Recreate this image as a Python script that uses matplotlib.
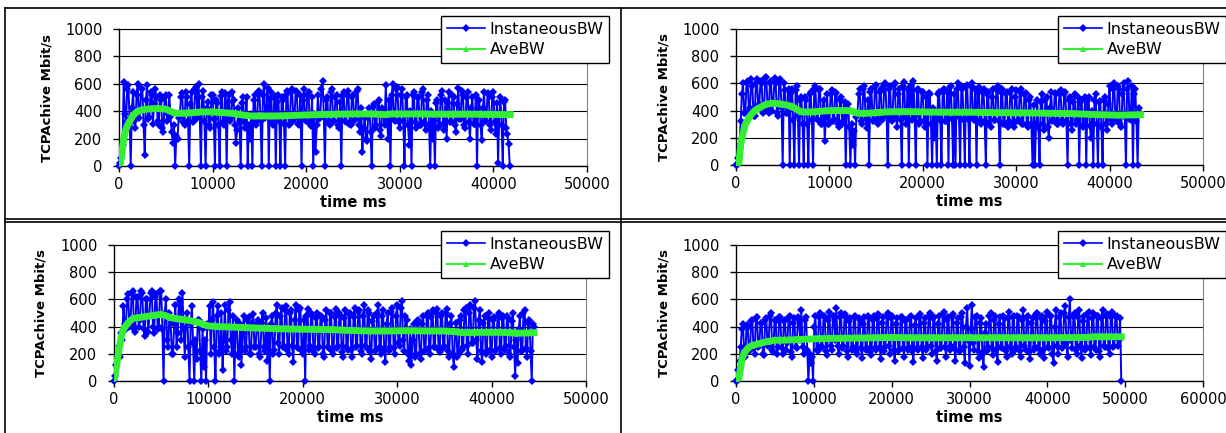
import numpy as np
import matplotlib
matplotlib.use("Agg")
import matplotlib.pyplot as plt
from matplotlib.lines import Line2D

# instantaneous throughput (Mbit/s), sampled every STEP_* ms
STEP_A = 125
inst_a = [
    0, 20, 60, 150, 610, 380, 320, 560, 590, 350, 0, 420, 540, 330, 280, 520, 600, 350, 400, 570,
    560, 300, 80, 480, 590, 340, 360, 540, 520, 310, 450, 560, 500, 330, 300, 520, 480, 280, 250, 500,
    520, 330, 380, 520, 360, 250, 170, 300, 0, 220, 200, 350, 380, 500, 530, 320, 300, 540, 500, 330,
    0, 450, 540, 320, 330, 560, 580, 350, 600, 380, 0, 500, 550, 330, 0, 420, 470, 300, 280, 520,
    520, 340, 0, 480, 460, 300, 0, 510, 540, 320, 300, 530, 0, 470, 520, 330, 350, 540, 480, 300,
    170, 260, 420, 330, 0, 460, 500, 320, 280, 500, 0, 300, 200, 380, 0, 480, 520, 300, 330, 540,
    550, 330, 0, 520, 600, 350, 380, 570, 0, 490, 540, 320, 300, 510, 0, 470, 520, 330, 0, 500,
    480, 310, 0, 520, 550, 300, 310, 540, 560, 330, 350, 550, 540, 310, 300, 520, 0, 480, 560, 340,
    330, 520, 540, 310, 290, 500, 0, 380, 100, 300, 520, 340, 350, 560, 620, 380, 0, 480, 500, 320,
    300, 540, 560, 330, 330, 500, 520, 300, 280, 470, 0, 510, 540, 330, 320, 520, 550, 310, 300, 500,
    520, 330, 340, 550, 560, 300, 250, 420, 100, 280, 350, 200, 180, 380, 420, 250, 0, 430, 450, 280,
    300, 470, 480, 260, 220, 420, 400, 300, 590, 350, 200, 480, 0, 520, 600, 340, 330, 560, 580, 320,
    280, 520, 560, 330, 0, 500, 520, 300, 150, 400, 0, 520, 540, 320, 280, 500, 500, 300, 300, 540,
    560, 320, 260, 480, 520, 300, 0, 400, 200, 330, 0, 460, 480, 280, 300, 520, 550, 310, 260, 480,
    200, 460, 540, 320, 330, 520, 500, 300, 250, 450, 570, 340, 340, 550, 520, 300, 280, 500, 540, 320,
    200, 420, 500, 310, 310, 520, 0, 480, 480, 300, 190, 420, 540, 330, 330, 530, 520, 300, 260, 500,
    540, 320, 230, 460, 20, 380, 500, 300, 0, 470, 480, 280, 230, 160, 0,
]
ave_a_t = [0, 250, 500, 750, 1000, 1500, 2000, 2500, 3000, 4000, 5000, 5500, 6000, 7000, 8000,
           9000, 10000, 11000, 12000, 13000, 14000, 15000, 17000, 19000, 21000, 23000, 25000,
           27000, 28500, 29000, 32000, 35000, 38000, 41800]
ave_a = [0, 60, 200, 270, 310, 370, 400, 410, 415, 420, 415, 400, 385, 385, 390,
         395, 395, 390, 385, 375, 365, 365, 365, 370, 375, 378, 380,
         380, 375, 380, 380, 378, 378, 375]

STEP_B = 125
inst_b = [
    0, 0, 50, 150, 320, 520, 600, 380, 380, 610, 620, 400, 420, 630, 580, 360, 360, 600, 630, 420,
    450, 620, 600, 380, 400, 640, 650, 420, 380, 600, 620, 400, 460, 640, 600, 380, 360, 610, 630, 420,
    0, 600, 550, 380, 380, 560, 0, 530, 560, 330, 0, 550, 580, 360, 0, 480, 500, 300, 0, 500,
    480, 300, 0, 520, 540, 330, 0, 560, 580, 340, 330, 550, 560, 300, 300, 480, 180, 350, 520, 300,
    300, 520, 550, 320, 340, 540, 530, 300, 280, 480, 500, 300, 320, 460, 0, 420, 450, 280, 0, 300,
    150, 250, 0, 350, 380, 520, 560, 320, 300, 560, 580, 340, 270, 480, 0, 540, 560, 320, 330, 580,
    590, 340, 300, 540, 560, 330, 350, 590, 600, 360, 0, 560, 580, 340, 320, 590, 600, 350, 280, 520,
    560, 330, 0, 580, 610, 350, 300, 560, 0, 540, 590, 330, 620, 360, 0, 550, 560, 300, 320, 540,
    540, 320, 280, 500, 0, 530, 520, 300, 0, 420, 200, 350, 0, 520, 540, 330, 0, 550, 560, 320,
    320, 540, 0, 570, 580, 340, 0, 520, 0, 560, 600, 350, 0, 580, 560, 330, 0, 570, 590, 340,
    0, 580, 600, 350, 330, 560, 0, 540, 570, 330, 300, 540, 560, 320, 0, 520, 540, 300, 280, 500,
    560, 330, 330, 560, 580, 320, 0, 540, 560, 300, 300, 520, 540, 280, 320, 540, 560, 300, 280, 500,
    550, 320, 330, 540, 560, 300, 300, 520, 530, 300, 280, 480, 500, 300, 0, 440, 0, 300, 480, 280,
    0, 460, 520, 300, 260, 480, 500, 280, 200, 420, 540, 320, 330, 530, 520, 300, 300, 540, 550, 330,
    300, 520, 540, 320, 0, 480, 500, 300, 260, 460, 520, 300, 330, 500, 0, 460, 480, 280, 300, 500,
    0, 470, 500, 290, 200, 400, 0, 480, 520, 300, 0, 460, 470, 280, 0, 480, 500, 300, 260, 450,
    580, 330, 300, 560, 600, 340, 320, 580, 560, 300, 280, 520, 600, 350, 0, 560, 620, 340, 330, 580,
    0, 520, 560, 320, 0, 420, 380,
]
ave_b_t = [0, 300, 500, 800, 1000, 1500, 2000, 2500, 3000, 3500, 4000, 4500, 5000, 5500, 6000,
           6500, 7000, 8000, 9000, 10000, 11000, 12000, 12500, 13000, 14000, 15000, 16000,
           17000, 19000, 20000, 22000, 25000, 28000, 31000, 34000, 36000, 38000, 40000, 41000,
           42000, 43300]
ave_b = [0, 0, 150, 250, 300, 360, 400, 420, 440, 450, 455, 450, 445, 440, 430,
         410, 390, 390, 395, 400, 400, 400, 395, 380, 380, 385, 390,
         392, 392, 390, 388, 388, 385, 383, 380, 378, 372, 368, 366,
         368, 370]

STEP_C = 125
inst_c = [
    0, 40, 120, 200, 260, 180, 350, 300, 550, 420, 380, 600, 640, 400, 420, 650, 660, 380, 360, 620,
    620, 400, 450, 660, 650, 380, 330, 600, 600, 360, 480, 650, 660, 400, 350, 620, 640, 380, 400, 660,
    660, 380, 0, 500, 600, 300, 250, 500, 450, 200, 200, 420, 560, 250, 350, 600, 580, 300, 650, 380,
    180, 450, 500, 250, 0, 420, 550, 280, 0, 300, 160, 450, 450, 220, 0, 380, 100, 300, 0, 420,
    400, 550, 200, 450, 580, 250, 0, 480, 550, 200, 220, 500, 80, 300, 560, 220, 250, 520, 580, 300,
    200, 480, 0, 400, 450, 200, 180, 420, 120, 350, 480, 220, 250, 450, 470, 200, 200, 430, 490, 250,
    250, 420, 450, 200, 180, 430, 500, 250, 220, 460, 150, 380, 0, 420, 480, 200, 230, 500, 560, 280,
    200, 480, 540, 250, 260, 520, 550, 230, 200, 500, 520, 260, 140, 450, 560, 250, 240, 520, 540, 220,
    200, 450, 0, 480, 530, 230, 260, 500, 480, 220, 200, 460, 500, 240, 250, 480, 470, 200, 180, 450,
    520, 250, 240, 500, 500, 220, 200, 470, 530, 240, 260, 500, 480, 210, 180, 460, 520, 250, 230, 490,
    500, 230, 180, 470, 540, 250, 260, 510, 520, 220, 200, 480, 560, 260, 240, 520, 500, 210, 160, 440,
    480, 220, 230, 500, 560, 250, 200, 480, 520, 230, 140, 420, 500, 220, 250, 510, 540, 240, 200, 480,
    560, 280, 260, 540, 590, 300, 220, 480, 450, 200, 150, 380, 120, 300, 420, 180, 200, 440, 450, 200,
    160, 420, 480, 220, 230, 480, 500, 240, 200, 470, 520, 250, 250, 500, 530, 230, 210, 480, 500, 240,
    260, 500, 530, 220, 180, 420, 480, 200, 100, 350, 430, 180, 200, 450, 480, 230, 250, 520, 540, 260,
    200, 500, 560, 280, 280, 540, 590, 300, 160, 450, 520, 220, 140, 430, 480, 200, 220, 460, 500, 230,
    180, 450, 470, 220, 230, 480, 500, 240, 200, 460, 480, 230, 260, 480, 460, 200, 180, 440, 500, 250,
    40, 300, 130, 380, 480, 220, 220, 500, 520, 240, 180, 430, 450, 220, 0, 420, 400,
]
ave_c_t = [0, 250, 500, 750, 1000, 1500, 2000, 2500, 3000, 4000, 5000, 5500, 6000, 7000, 8000,
           9000, 9500, 10000, 11000, 12000, 13000, 15000, 17000, 19000, 21000, 23000, 25000,
           27000, 29000, 31000, 33000, 35000, 36500, 37000, 39000, 41000, 43000, 44500]
ave_c = [0, 100, 220, 320, 380, 430, 460, 465, 470, 480, 490, 480, 465, 455, 445,
         430, 415, 405, 400, 398, 395, 390, 385, 382, 380, 378, 372,
         368, 368, 370, 368, 368, 360, 355, 358, 358, 352, 355]

STEP_D = 150
inst_d = [
    0, 0, 80, 150, 250, 380, 420, 200, 180, 410, 400, 220, 230, 440, 450, 240, 200, 460, 470, 250,
    260, 430, 430, 200, 190, 450, 460, 260, 300, 480, 500, 230, 210, 450, 440, 200, 250, 470, 470, 240,
    200, 440, 450, 230, 280, 470, 480, 210, 180, 430, 460, 250, 240, 470, 450, 300, 520, 250, 200, 450,
    470, 230, 0, 200, 130, 180, 0, 400, 480, 230, 220, 470, 500, 260, 250, 480, 470, 220, 190, 450,
    510, 260, 230, 480, 480, 300, 540, 260, 200, 470, 500, 240, 260, 490, 470, 220, 180, 440, 460, 230,
    250, 470, 480, 220, 200, 460, 450, 240, 170, 420, 470, 230, 240, 480, 460, 210, 190, 450, 480, 240,
    230, 460, 490, 250, 160, 430, 470, 220, 250, 480, 500, 260, 200, 460, 480, 230, 150, 420, 460, 220,
    230, 470, 470, 240, 180, 440, 450, 230, 250, 470, 480, 220, 140, 410, 460, 240, 230, 480, 490, 250,
    170, 430, 460, 230, 250, 480, 500, 260, 200, 460, 470, 220, 150, 420, 480, 240, 240, 490, 510, 250,
    180, 450, 470, 230, 260, 480, 490, 240, 150, 430, 460, 220, 220, 470, 500, 250, 130, 400, 540, 300,
    110, 380, 560, 280, 230, 470, 480, 220, 170, 430, 460, 200, 100, 350, 420, 220, 250, 480, 500, 240,
    190, 450, 480, 230, 140, 420, 470, 250, 240, 480, 460, 220, 180, 460, 510, 250, 200, 470, 480, 230,
    250, 480, 470, 220, 180, 450, 520, 260, 230, 470, 480, 210, 160, 430, 460, 230, 250, 490, 500, 240,
    200, 460, 480, 230, 170, 440, 510, 250, 240, 480, 480, 200, 130, 400, 520, 260, 200, 470, 500, 240,
    250, 500, 550, 280, 180, 470, 600, 300, 240, 480, 500, 230, 200, 470, 520, 260, 170, 440, 480, 230,
    250, 490, 510, 240, 190, 460, 500, 250, 230, 480, 480, 220, 180, 460, 520, 260, 250, 480, 490, 240,
    200, 470, 510, 250, 260, 480, 480, 260, 300, 460, 0,
]
ave_d_t = [0, 300, 600, 800, 1000, 1500, 2000, 3000, 4000, 5000, 6000, 7000, 8000, 10000,
           12000, 15000, 18000, 20000, 22000, 25000, 30000, 35000, 40000, 45000, 46000, 49500]
ave_d = [0, 0, 100, 170, 200, 240, 260, 275, 290, 300, 300, 302, 305, 310,
         313, 315, 318, 320, 318, 318, 318, 318, 318, 320, 325, 325]

BLUE = "#0000FF"
GREEN = "#33EE33"
W, H = 1226, 433


def px_rect(left, top, right, bottom):
    return [left / W, 1 - bottom / H, (right - left) / W, (bottom - top) / H]


fig = plt.figure(figsize=(W / 100, H / 100), dpi=100)

# (samples, step, avg times, avg values, x max, plot box px, legend corner px)
panels = [
    (inst_a, STEP_A, ave_a_t, ave_a, 50000, (119, 29, 587, 166), (441, 16)),
    (inst_b, STEP_B, ave_b_t, ave_b, 50000, (736, 29, 1203, 165), (1058, 16)),
    (inst_c, STEP_C, ave_c_t, ave_c, 50000, (114, 245, 586, 381), (441, 231)),
    (inst_d, STEP_D, ave_d_t, ave_d, 60000, (736, 245, 1203, 381), (1058, 231)),
]

for inst, step, ave_t, ave, xmax, box, leg in panels:
    ax = fig.add_axes(px_rect(*box))
    t = np.arange(len(inst)) * step
    ax.plot(t, inst, color=BLUE, lw=1.4, marker="D", ms=3.6, mew=0, zorder=3, clip_on=False)
    ax.plot(ave_t, ave, color=GREEN, lw=5, marker="^", ms=4, mew=0, zorder=4)

    ax.set_xlim(0, xmax)
    ax.set_ylim(0, 1000)
    ax.set_xticks(np.arange(0, xmax + 1, 10000))
    ax.set_yticks(np.arange(0, 1001, 200))
    ax.grid(axis="y", color="black", lw=0.8)
    ax.set_axisbelow(True)
    for side in ("left", "bottom"):
        ax.spines[side].set_color("black")
        ax.spines[side].set_linewidth(1.0)
    ax.spines["right"].set_color("#808080")
    ax.spines["top"].set_color("black")
    ax.spines["top"].set_linewidth(0.8)
    ax.tick_params(direction="out", length=4, width=1, labelsize=10.5)
    ax.tick_params(axis="y", pad=8)
    ax.tick_params(axis="x", pad=4)

    ax.set_xlabel("time ms", fontsize=10.5, fontweight="bold")
    ax.xaxis.set_label_coords(0.5, -0.21)
    ax.set_ylabel("TCPAchive Mbit/s", fontsize=9.5, fontweight="bold")
    ax.yaxis.set_label_coords(-0.141, 0.5)

    handles = [
        Line2D([], [], color=BLUE, lw=1.2, marker="D", ms=4, mew=0),
        Line2D([], [], color=GREEN, lw=1.5, marker="^", ms=5, mew=0),
    ]
    lg = ax.legend(handles, ["InstaneousBW", "AveBW"], loc="upper left",
                   bbox_to_anchor=(leg[0] / W, 1 - leg[1] / H),
                   bbox_transform=fig.transFigure, borderaxespad=0,
                   fancybox=False, edgecolor="black", framealpha=1,
                   fontsize=11.5, handlelength=2.4, handletextpad=0.3,
                   borderpad=0.35, labelspacing=0.35)
    lg.get_frame().set_linewidth(1.0)

# frames around the four chart pictures
borders = [
    ((5, 8), (1226, 8)),
    ((5, 8), (5, 433)),
    ((621, 8), (621, 433)),
    ((5, 219), (1226, 219)),
    ((5, 222), (1226, 222)),
]
for (x0, y0), (x1, y1) in borders:
    fig.add_artist(Line2D([x0 / W, x1 / W], [1 - y0 / H, 1 - y1 / H],
                          transform=fig.transFigure, color="black", lw=1.2))

fig.savefig("out.png", dpi=100)
